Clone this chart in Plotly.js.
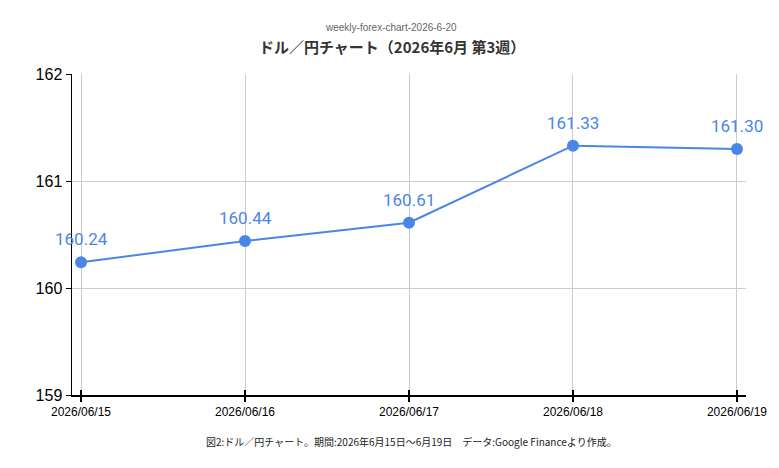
<!DOCTYPE html>
<html>
<head>
<meta charset="utf-8">
<script src="https://cdn.plot.ly/plotly-3.0.1.min.js"></script>
<style>
  html, body { margin: 0; padding: 0; background: #fff; }
  #chart { width: 779px; height: 468px; }
</style>
</head>
<body>
<div id="chart"></div>
<script>
  var dates = ['2026/06/15', '2026/06/16', '2026/06/17', '2026/06/18', '2026/06/19'];
  var rates = [160.24, 160.44, 160.61, 161.33, 161.30];
  var labels = ['160.24', '160.44', '160.61', '161.33', '161.30'];
  var yTicks = [159, 160, 161, 162];

  var blue = '#4a86e8';
  var jp = '"Noto Sans CJK JP", "Liberation Sans", Arial, sans-serif';

  var trace = {
    x: dates,
    y: rates,
    type: 'scatter',
    mode: 'lines+markers',
    line: { color: blue, width: 2 },
    marker: { color: blue, size: 12 },
    cliponaxis: false,
    hoverinfo: 'x+y'
  };

  // second, invisible trace so the crossing half of the x ticks gets drawn
  var tickTrace = {
    x: dates,
    y: rates,
    xaxis: 'x2',
    type: 'scatter',
    mode: 'none',
    showlegend: false,
    hoverinfo: 'skip'
  };

  // value labels above each point
  var valueNotes = dates.map(function (d, i) {
    return {
      x: d, y: rates[i], xref: 'x', yref: 'y',
      text: labels[i],
      showarrow: false,
      yanchor: 'bottom',
      yshift: 11,
      font: { family: 'Roboto, sans-serif', size: 17, color: blue }
    };
  });

  var layout = {
    width: 779,
    height: 468,
    margin: { l: 72, r: 33, t: 74, b: 73 },
    paper_bgcolor: '#fff',
    plot_bgcolor: '#fff',
    showlegend: false,
    xaxis: {
      type: 'category',
      range: [-0.055, 4.055],
      showgrid: true,
      gridcolor: '#cccccc',
      gridwidth: 1,
      showline: true,
      linecolor: '#000',
      linewidth: 1.5,
      ticks: 'outside',
      ticklen: 5,
      tickwidth: 2,
      tickcolor: '#000',
      tickfont: { family: '"Liberation Sans", Arial, sans-serif', size: 12, color: '#000' },
      zeroline: false
    },
    xaxis2: {
      type: 'category',
      overlaying: 'x',
      matches: 'x',
      side: 'bottom',
      anchor: 'y',
      range: [-0.055, 4.055],
      showgrid: false,
      showline: false,
      ticks: 'inside',
      ticklen: 5,
      tickwidth: 2,
      tickcolor: '#000',
      showticklabels: false,
      zeroline: false
    },
    yaxis: {
      range: [159, 162],
      tickvals: yTicks,
      ticktext: yTicks.map(String),
      showgrid: true,
      gridcolor: '#cccccc',
      gridwidth: 1,
      showline: true,
      linecolor: '#000',
      linewidth: 1.5,
      ticks: 'outside',
      ticklen: 5,
      tickcolor: '#000',
      tickfont: { family: '"Liberation Sans", Arial, sans-serif', size: 16, color: '#000' },
      zeroline: false
    },
    annotations: valueNotes.concat([
      {
        text: 'weekly-forex-chart-2026-6-20',
        xref: 'paper', yref: 'paper', x: 0.5, y: 1,
        xanchor: 'center', yanchor: 'bottom', yshift: 39,
        xshift: -18,
        showarrow: false,
        font: { family: '"Liberation Sans", Arial, sans-serif', size: 10, color: '#666' }
      },
      {
        text: '<b>ドル／円チャート（2026年6月 第3週）</b>',
        xref: 'paper', yref: 'paper', x: 0.5, y: 1,
        xanchor: 'center', yanchor: 'bottom', yshift: 15,
        xshift: -17,
        showarrow: false,
        font: { family: jp, size: 15, color: '#333' }
      },
      {
        text: '図2:ドル／円チャート。期間:2026年6月15日～6月19日　データ:Google Financeより作成。',
        xref: 'paper', yref: 'paper', x: 0.5, y: 0,
        xanchor: 'center', yanchor: 'top', yshift: -37,
        xshift: 2,
        showarrow: false,
        font: { family: jp, size: 10, color: '#222' }
      }
    ])
  };

  Plotly.newPlot('chart', [trace, tickTrace], layout, { displayModeBar: false, staticPlot: true });
</script>
</body>
</html>
